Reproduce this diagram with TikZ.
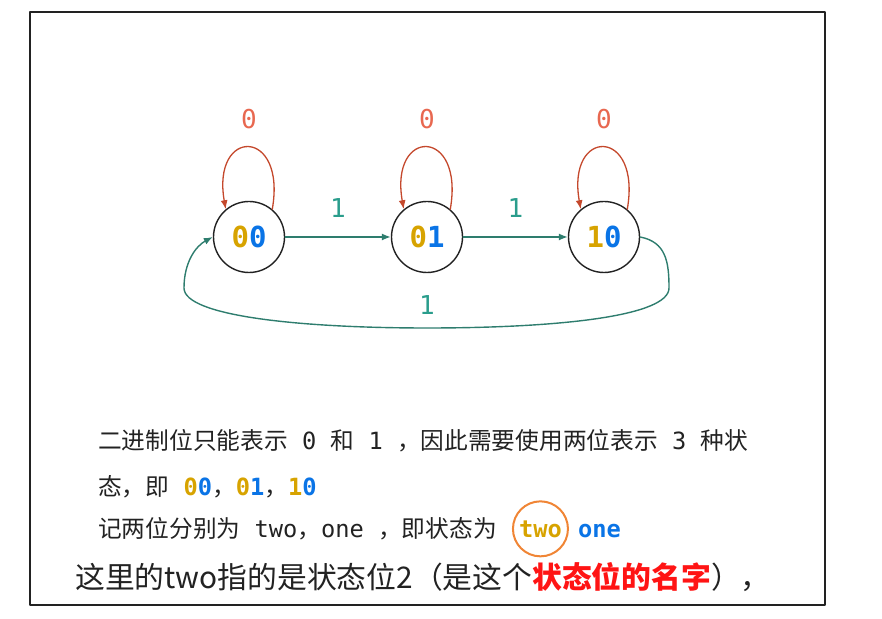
\documentclass[tikz,border=0pt]{standalone}
\usepackage{fontspec}
\setmonofont{DejaVu Sans Mono}
\newfontfamily\cjk{Noto Sans CJK SC}
\usepackage{tikz}
\usetikzlibrary{arrows.meta}
\usetikzlibrary{positioning}

% two coloured bits, as in the state names
\newcommand{\bits}[2]{{\ttfamily\bfseries\textcolor{goldC}{#1}\textcolor{blueC}{#2}}}

\begin{document}
\begin{tikzpicture}[x=1pt, y=1pt, >=Latex, line cap=round, line join=round]

	% Colors
	\definecolor{loopC}{RGB}{196,72,44}
	\definecolor{zeroC}{RGB}{232,104,80}
	\definecolor{edgeC}{RGB}{46,125,110}
	\definecolor{oneC}{RGB}{42,157,140}
	\definecolor{goldC}{RGB}{215,163,0}
	\definecolor{blueC}{RGB}{10,116,230}
	\definecolor{ringC}{RGB}{240,133,53}
	\definecolor{redC}{RGB}{255,20,20}
	\definecolor{inkC}{RGB}{34,34,34}

	\tikzset{
		state/.style={circle, draw=inkC, line width=1.4pt, minimum size=71pt, inner sep=0pt,
			font=\ttfamily\bfseries\fontsize{29}{32}\selectfont},
		loopE/.style={-{Latex[length=9pt,width=7pt]}, line width=1.3pt, draw=loopC},
		edgeT/.style={-{Latex[length=9pt,width=7pt]}, line width=1.4pt, draw=edgeC},
		lab0/.style={font=\ttfamily\fontsize{26}{28}\selectfont, text=zeroC},
		lab1/.style={font=\ttfamily\fontsize{26}{28}\selectfont, text=oneC},
		txt/.style={font=\cjk\fontsize{23.7}{28}\selectfont, text=inkC, inner sep=0pt, anchor=base west},
		big/.style={font=\cjk\fontsize{29.8}{34}\selectfont, text=inkC, inner sep=0pt, anchor=base west},
		ring/.style={circle, draw=ringC, line width=2pt, minimum size=55pt, inner sep=0pt,
			font=\ttfamily\bfseries\fontsize{23.7}{28}\selectfont, text=goldC},
	}

	\useasboundingbox (0,0) rectangle (882,618);
	\draw[inkC, line width=2pt] (30,13) rectangle (825,606);

	% --- States
	\node[state] (n00) at (249,381) {\bits{0}{0}};
	\node[state] (n01) at (427,381) {\bits{0}{1}};
	\node[state] (n10) at (604,381) {\bits{1}{0}};

	% --- Self loops on 0
	\draw[loopE] (n00.50) to[out=80, in=100, looseness=4.6] node[lab0, above=15pt] {0} (n00.130);
	\draw[loopE] (n01.50) to[out=80, in=100, looseness=4.6] node[lab0, above=15pt] {0} (n01.130);
	\draw[loopE] (n10.50) to[out=80, in=100, looseness=4.6] node[lab0, above=15pt] {0} (n10.130);

	% --- Transitions on 1
	\draw[edgeT] (n00) -- node[lab1, above=15pt] {1} (n01);
	\draw[edgeT] (n01) -- node[lab1, above=15pt] {1} (n10);
	\draw[edgeT] (n10.east) .. controls (666,376) and (669,356) .. (669,330)
		.. controls (669,302) and (560,290) .. (427,290) node[lab1, above=9pt] {1}
		.. controls (300,290) and (184,302) .. (184,330)
		.. controls (184,356) and (196,372) .. (n00.west);

	% --- Text below
	\node[txt] (line1) at (98,168) {二进制位只能表示\texttt{ 0 }和\texttt{ 1 }，因此需要使用两位表示\texttt{ 3 }种状};
	\node[txt] (line2) at (98,123) {态，即\texttt{ }\bits{0}{0}，\bits{0}{1}，\bits{1}{0}};
	\node[txt] (line3) at (98,81) {记两位分别为\texttt{ two}，\texttt{one }，即状态为};
	\node[ring, base right=15pt of line3] (two) {two};
	\node[txt, base right=9pt of two, font=\ttfamily\bfseries\fontsize{23.7}{28}\selectfont, text=blueC] (one) {one};
	\node[big] (line4) at (75,30) {这里的two指的是状态位2（是这个{\bfseries\color{redC}状态位的名字}），};

\end{tikzpicture}
\end{document}
